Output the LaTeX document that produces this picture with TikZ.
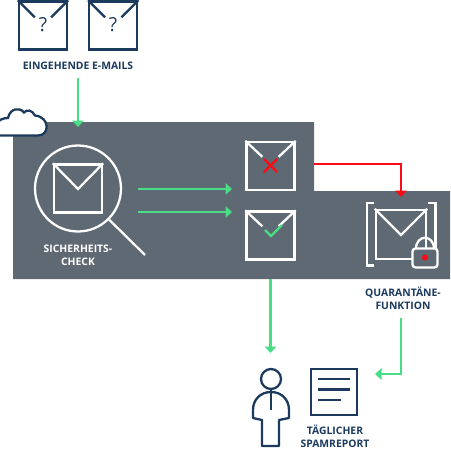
\documentclass[tikz,border=0pt]{standalone}
\usepackage{fontspec}
\setmainfont{Open Sans}
\usepackage{xcolor}
\definecolor{PanelGray}{RGB}{95,105,115}
\definecolor{MailNavy}{RGB}{28,58,94}
\definecolor{MailGreen}{RGB}{72,222,135}
\definecolor{MailRed}{RGB}{250,10,20}
\usetikzlibrary{positioning,arrows.meta,calc}

\begin{document}
\begin{tikzpicture}[
    x=0.02cm, y=-0.02cm,
    navyline/.style={draw=MailNavy, line width=1.3pt},
    whiteline/.style={draw=white, line width=1.3pt},
    mailnavy/.style={rectangle, navyline, minimum size=0.96cm, inner sep=0pt},
    mailwhite/.style={rectangle, whiteline, minimum size=0.96cm, inner sep=0pt},
    navytext/.style={text=MailNavy, font=\fontsize{5.9}{7.4}\selectfont\bfseries, align=center, inner sep=0pt},
    whitetext/.style={navytext, text=white},
    asktext/.style={text=MailNavy, font=\fontsize{11}{11}\selectfont, inner sep=0pt},
    greenarrow/.style={draw=MailGreen, line width=1.3pt, -{Triangle[length=0.13cm, width=0.23cm]}},
    redarrow/.style={draw=MailRed, line width=1.3pt, -{Triangle[length=0.13cm, width=0.23cm]}}
]
    \useasboundingbox (0,0) rectangle (450,450);
    % gray panel
    \fill[PanelGray] (13,122) -- (314,122) -- (314,191) -- (450,191) -- (450,279) -- (13,279) -- cycle;
    % cloud
    \filldraw[navyline, fill=white] (6,135.5) -- (38,135.5) .. controls (50,135.5) and (50,117) .. (35,115.5)
        .. controls (32,110) and (27,109) .. (24,112.5) .. controls (20,107) and (10,108) .. (8,118)
        .. controls (3,118) and (-1,120) .. (-3,123) -- (-3,135.5) -- cycle;

    % incoming mails
    \node[mailnavy] (mailone) at (43,25.5) {};
    \node[mailnavy, right=0.4cm of mailone] (mailtwo) {};
    \node[asktext] (askone) at (43,25) {?};
    \node[asktext] (asktwo) at (113,25) {?};
    \draw[navyline] (mailone.north west) -- ++(17,17);
    \draw[navyline] (mailone.north east) -- ++(-17,17);
    \draw[navyline] (mailtwo.north west) -- ++(17,17);
    \draw[navyline] (mailtwo.north east) -- ++(-17,17);
    \node[navytext] (inlabel) at (78,65.5) {EINGEHENDE E-MAILS};
    \coordinate (panelin) at (78,127);
    \draw[greenarrow, shorten <=0.16cm] (inlabel.south) -- (panelin);

    % security check
    \node[circle, whiteline, minimum size=1.72cm, inner sep=0pt] (lens) at (78,188.5) {};
    \node[mailwhite] (checkmail) at (78,188.5) {};
    \draw[whiteline] (checkmail.north west) -- (78,189) -- (checkmail.north east);
    \coordinate (handle) at (145,255);
    \draw[whiteline] (lens.-45) -- (handle);
    \node[whitetext] (checklabel) at (78,255) {SICHERHEITS-\\CHECK};

    % sorted mails
    \node[mailwhite] (badmail) at (270.5,166) {};
    \draw[whiteline] (badmail.north west) -- ++(17,16);
    \draw[whiteline] (badmail.north east) -- ++(-17,16);
    \draw[draw=MailRed, line width=1.3pt] (264,159) -- (277,172) (277,159) -- (264,172);
    \node[mailwhite] (goodmail) at (270.5,235.5) {};
    \draw[whiteline] (goodmail.north west) -- ++(17,16);
    \draw[whiteline] (goodmail.north east) -- ++(-17,16);
    \draw[draw=MailGreen, line width=1.3pt] (265,230) -- (271,236) -- (282,225);
    \coordinate (checkone) at (138,189);
    \coordinate (checktwo) at (138,212);
    \coordinate (badin) at (232,189);
    \coordinate (goodin) at (232,212);
    \draw[greenarrow] (checkone) -- (badin);
    \draw[greenarrow] (checktwo) -- (goodin);

    % quarantine
    \node[mailwhite, minimum width=1cm, minimum height=0.98cm] (quarmail) at (401,234.5) {};
    \draw[whiteline] (quarmail.north west) -- (401,235) -- (quarmail.north east);
    \draw[whiteline] (374,203) -- (367,203) -- (367,265.5) -- (374,265.5);
    \draw[whiteline] (428,203) -- (435.5,203) -- (435.5,265.5) -- (428,265.5);
    \draw[whiteline] (416,249) .. controls (416,234) and (434,234) .. (434,249);
    \node[rectangle, whiteline, fill=PanelGray, rounded corners=0.06cm, minimum width=0.5cm, minimum height=0.38cm, inner sep=0pt] (lock) at (425,258) {};
    \node[circle, fill=MailRed, minimum size=0.12cm, inner sep=0pt] (lockdot) at (425,257.5) {};
    \node[navytext] (quarlabel) at (403,298.5) {QUARANTÄNE-\\FUNKTION};
    \coordinate (badout) at (314,164);
    \coordinate (quarin) at (401,197);
    \draw[redarrow] (badout) -| (quarin);

    % user and report
    \node[circle, navyline, minimum size=0.4cm, inner sep=0pt] (userhead) at (271,379) {};
    \draw[navyline, line join=round] (userhead.south) -- (271,410);
    \draw[navyline, line join=round] (271,392) .. controls (260,392) and (253,400) .. (253,410) -- (253,418) -- (262,420) -- (262,446) -- (279,446) -- (279,420) -- (289,418) -- (289,410) .. controls (289,400) and (282,392) .. (271,392);
    \node[rectangle, navyline, minimum size=0.92cm, inner sep=0pt] (report) at (334,392) {};
    \draw[navyline] (318,379) -- (350,379);
    \draw[navyline] (318,389.5) -- (350,389.5);
    \draw[navyline] (318,400) -- (341,400);
    \node[navytext] (reportlabel) at (335,436.5) {TÄGLICHER\\SPAMREPORT};
    \coordinate (goodout) at (270.5,279);
    \coordinate (quarout) at (401,318);
    \coordinate (reportin) at (375,374);
    \draw[greenarrow] (goodout) -- (goodout |- 0,353);
    \draw[greenarrow] (quarout) |- (reportin);
\end{tikzpicture}
\end{document}
